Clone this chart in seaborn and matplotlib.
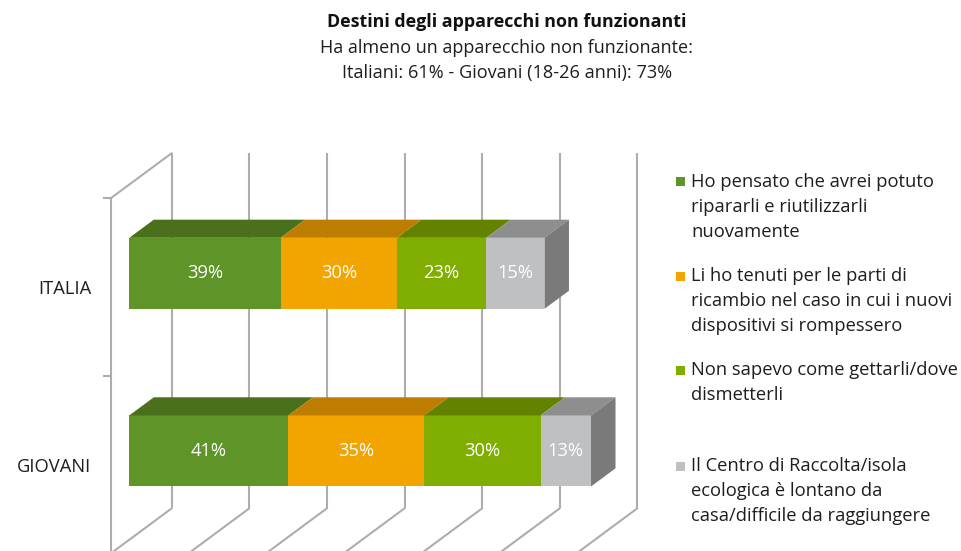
import pandas as pd
import seaborn as sns
import matplotlib.pyplot as plt
from matplotlib.patches import Polygon, Rectangle

# data
categorie = ['ITALIA', 'GIOVANI']
serie = ['Ho pensato che avrei potuto\nripararli e riutilizzarli\nnuovamente',
         'Li ho tenuti per le parti di\nricambio nel caso in cui i nuovi\ndispositivi si rompessero',
         'Non sapevo come gettarli/dove\ndismetterli',
         'Il Centro di Raccolta/isola\necologica è lontano da\ncasa/difficile da raggiungere']
italia = [39, 30, 23, 15]
giovani = [41, 35, 30, 13]
griglia = [0, 20, 40, 60, 80, 100, 120]

colori = ['#5E9428', '#F2A400', '#80AE00', '#BFC0C2']
colori_top = ['#4A701B', '#BC7D00', '#628200', '#8E8E8E']
colore_lato = '#7A7A7A'
colore_griglia = '#ADADAD'
colore_testo = '#1E1E1E'

# long table with cumulative ends for stacked bars
rows = []
for cat, vals in zip(categorie, [italia, giovani]):
    cum = 0
    for i, v in enumerate(vals):
        rows.append({'categoria': cat, 'serie': i, 'valore': v, 'inizio': cum, 'fine': cum + v})
        cum += v
df = pd.DataFrame(rows)

# oblique 3d geometry (pixels)
PX_X = 3.88      # px per %
PX_Y = 177.6     # px per category
SLOPE = 0.74
D_FRONT = -18.6  # front plane relative to bar front face
D_BAR = 24.5     # bar depth
D_BACK = 42.4    # back wall
BAR_H = 0.40
FS = 13.2


def depth(d):
    return d / PX_X, -SLOPE * d / PX_Y


sns.set_theme(style='white')
plt.rcParams['font.family'] = ['Open Sans', 'DejaVu Sans']

W, H = 962, 551
fig = plt.figure(figsize=(W / 100, H / 100), dpi=100)

ax_left, ax_right, ax_top = 110.7, 650, 198.3
ax = fig.add_axes([ax_left / W, 0, (ax_right - ax_left) / W, 1 - ax_top / H])

# stacked bars: draw cumulative ends from the largest to the smallest
for i in reversed(range(len(serie))):
    sub = df[df['serie'] == i]
    sns.barplot(data=sub, x='fine', y='categoria', order=categorie, color=colori[i],
                saturation=1, width=BAR_H, orient='h', ax=ax, zorder=3, linewidth=0)

dxf, dyf = depth(D_FRONT)
dxb, dyb = depth(D_BACK)
dxt, dyt = depth(D_BAR)

x0_lim = dxf
ax.set_xlim(x0_lim, x0_lim + (ax_right - ax_left) / PX_X)
y_top = -0.5 + dyf
ax.set_ylim(y_top + (H - ax_top) / PX_Y, y_top)

# back wall grid, floor and left wall
for v in griglia:
    ax.plot([v + dxb, v + dxb], [-0.5 + dyb, 1.5 + dyb], color=colore_griglia, lw=1.5,
            zorder=1, clip_on=False, solid_capstyle='butt')
    ax.plot([v + dxb, v + dxf], [1.5 + dyb, 1.5 + dyf], color=colore_griglia, lw=1.5,
            zorder=1, clip_on=False)
ax.plot([dxf, dxb], [-0.5 + dyf, -0.5 + dyb], color=colore_griglia, lw=1.5, zorder=1, clip_on=False)

# top and side faces, value labels
for j, cat in enumerate(categorie):
    sub = df[df['categoria'] == cat]
    yt, yb = j - BAR_H / 2, j + BAR_H / 2
    for _, r in sub.iterrows():
        a, b = r['inizio'], r['fine']
        ax.add_patch(Polygon([(a, yt), (b, yt), (b + dxt, yt + dyt), (a + dxt, yt + dyt)],
                             closed=True, facecolor=colori_top[r['serie']], edgecolor='none',
                             zorder=3, clip_on=False))
        ax.text((a + b) / 2, j, f"{r['valore']}%", color='white', fontsize=FS,
                ha='center', va='center', zorder=5)
    b = sub['fine'].max()
    ax.add_patch(Polygon([(b, yt), (b + dxt, yt + dyt), (b + dxt, yb + dyt), (b, yb)],
                         closed=True, facecolor=colore_lato, edgecolor='none', zorder=3, clip_on=False))

# axes styling
for s in ['top', 'right', 'bottom']:
    ax.spines[s].set_visible(False)
ax.spines['left'].set_color(colore_griglia)
ax.spines['left'].set_linewidth(1.5)
ax.set_xticks([])
ax.set_xlabel('')
ax.set_ylabel('')
ax.set_yticks([j + dyf for j in range(len(categorie))])
ax.set_yticklabels(categorie, fontsize=FS, color=colore_testo)
ax.set_yticks([-0.5 + dyf, 0.5 + dyf], minor=True)
ax.tick_params(axis='y', which='major', length=0, pad=14)
ax.tick_params(axis='y', which='minor', length=5.5, width=1.5, color=colore_griglia, left=True)
ax.patch.set_alpha(0)

# titles
xc = 507 / W
fig.text(xc, 1 - 22 / H, 'Destini degli apparecchi non funzionanti', ha='center', va='center',
         fontsize=12.9, fontweight='bold', color='#111111')
fig.text(xc, 1 - 48 / H, 'Ha almeno un apparecchio non funzionante:', ha='center', va='center',
         fontsize=13.0, color=colore_testo)
fig.text(xc, 1 - 73 / H, 'Italiani: 61% - Giovani (18-26 anni): 73%', ha='center', va='center',
         fontsize=13.1, color=colore_testo)

# legend
for k, yl in enumerate([182, 276, 370, 466]):
    fig.patches.append(Rectangle((676 / W, 1 - (yl + 4.5) / H), 9 / W, 9 / H,
                                 transform=fig.transFigure, facecolor=colori[k], edgecolor='none'))
    for n, riga in enumerate(serie[k].split('\n')):
        fig.text(691 / W, 1 - (yl + 25 * n) / H, riga, ha='left', va='center', fontsize=FS,
                 color=colore_testo)

fig.savefig('out.png', dpi=100)
